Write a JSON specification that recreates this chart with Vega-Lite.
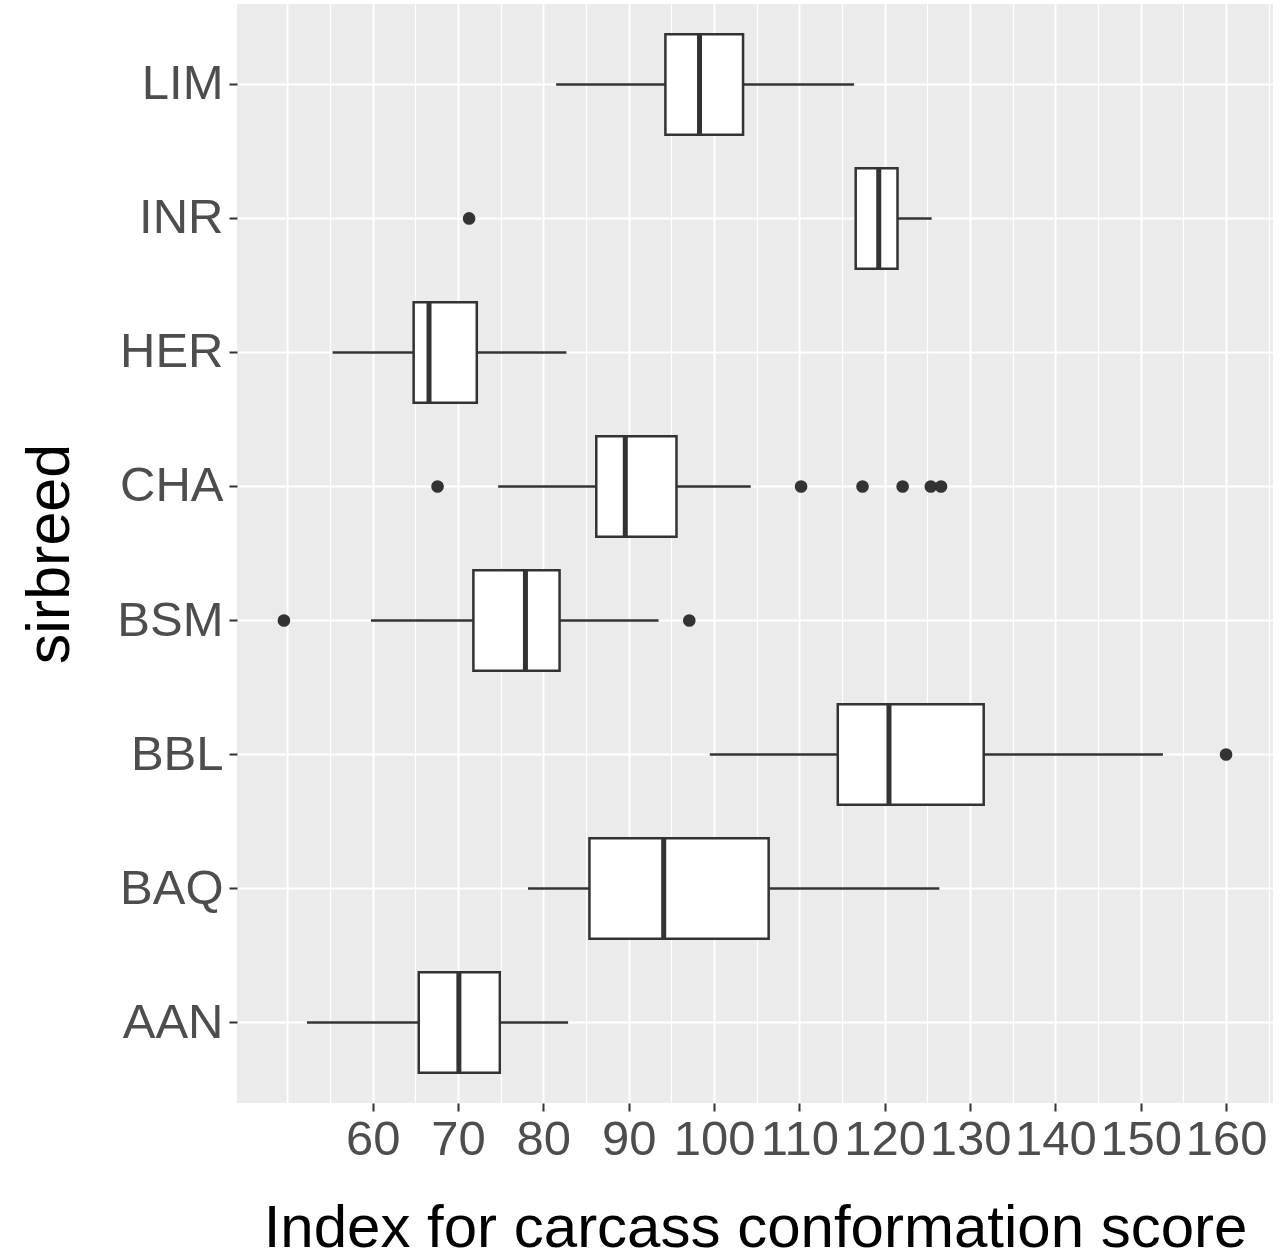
{
  "$schema": "https://vega.github.io/schema/vega-lite/v6.json",
  "width": 1036,
  "height": 1099,
  "autosize": {"type": "none"},
  "padding": {"left": 237, "top": 4, "right": 13, "bottom": 157},
  "background": "white",
  "config": {
    "view": {"fill": "#EBEBEB", "stroke": null},
    "font": "Liberation Sans"
  },
  "datasets": {
    "stats": [
      {"breed": "LIM", "lo": 81.5, "q1": 94.3, "med": 98.3, "q3": 103.4, "hi": 116.4},
      {"breed": "INR", "lo": 116.6, "q1": 116.6, "med": 119.3, "q3": 121.5, "hi": 125.5},
      {"breed": "HER", "lo": 55.3, "q1": 64.8, "med": 66.6, "q3": 72.2, "hi": 82.7},
      {"breed": "CHA", "lo": 74.7, "q1": 86.2, "med": 89.6, "q3": 95.6, "hi": 104.3},
      {"breed": "BSM", "lo": 59.8, "q1": 71.8, "med": 77.9, "q3": 81.9, "hi": 93.5},
      {"breed": "BBL", "lo": 99.5, "q1": 114.5, "med": 120.5, "q3": 131.6, "hi": 152.6},
      {"breed": "BAQ", "lo": 78.2, "q1": 85.4, "med": 94.1, "q3": 106.4, "hi": 126.4},
      {"breed": "AAN", "lo": 52.3, "q1": 65.4, "med": 70.1, "q3": 74.9, "hi": 82.9}
    ],
    "outliers": [
      {"breed": "INR", "value": 71.3},
      {"breed": "CHA", "value": 67.6},
      {"breed": "CHA", "value": 110.2},
      {"breed": "CHA", "value": 117.4},
      {"breed": "CHA", "value": 122.1},
      {"breed": "CHA", "value": 125.4},
      {"breed": "CHA", "value": 126.6},
      {"breed": "BSM", "value": 49.6},
      {"breed": "BSM", "value": 97.1},
      {"breed": "BBL", "value": 160.0}
    ]
  },
  "encoding": {
    "y": {
      "field": "breed",
      "type": "nominal",
      "sort": ["LIM", "INR", "HER", "CHA", "BSM", "BBL", "BAQ", "AAN"],
      "scale": {
        "domain": ["LIM", "INR", "HER", "CHA", "BSM", "BBL", "BAQ", "AAN"],
        "paddingInner": 0.25,
        "paddingOuter": 0.225
      },
      "title": "sirbreed",
      "axis": {
        "bandPosition": 0.5,
        "domain": false,
        "grid": true,
        "gridColor": "white",
        "gridWidth": 2,
        "tickSize": 8,
        "tickWidth": 2,
        "tickColor": "#333333",
        "labelFontSize": 49,
        "labelColor": "#4D4D4D",
        "labelPadding": 6,
        "titleFontSize": 61,
        "titleFontWeight": "normal",
        "titleColor": "black",
        "titleAngle": 270,
        "titleAlign": "center",
        "titleBaseline": "alphabetic",
        "titleX": -169,
        "titleY": 549.5
      }
    }
  },
  "layer": [
    {
      "data": {"name": "stats"},
      "mark": {"type": "rule", "color": "#333333", "strokeWidth": 2.5},
      "encoding": {
        "x": {
          "field": "lo",
          "type": "quantitative",
          "title": "Index for carcass conformation score",
          "scale": {"domain": [44.1, 165.5], "nice": false, "zero": false},
          "axis": {
            "values": [50, 55, 60, 65, 70, 75, 80, 85, 90, 95, 100, 105, 110, 115, 120, 125, 130, 135, 140, 145, 150, 155, 160, 165],
            "domain": false,
            "grid": true,
            "gridColor": "white",
            "gridWidth": {"condition": {"test": "datum.value % 10 === 0", "value": 2}, "value": 1.2},
            "tickOpacity": {"condition": {"test": "datum.value >= 60 && datum.value <= 160 && datum.value % 10 === 0", "value": 1}, "value": 0},
            "labelExpr": "datum.value >= 60 && datum.value <= 160 && datum.value % 10 === 0 ? datum.label : ''",
            "tickSize": 8,
            "tickWidth": 2,
            "tickColor": "#333333",
            "labelFontSize": 49,
            "labelColor": "#4D4D4D",
            "labelPadding": 4,
            "labelOverlap": false,
            "labelFlush": false,
            "titleFontSize": 60,
            "titleFontWeight": "normal",
            "titleColor": "black",
            "titleAlign": "center",
            "titleBaseline": "alphabetic",
            "titleX": 518,
            "titleY": 143
          }
        },
        "x2": {"field": "hi"}
      }
    },
    {
      "data": {"name": "stats"},
      "mark": {"type": "bar", "fill": "white", "stroke": "#333333", "strokeWidth": 2.5},
      "encoding": {
        "x": {"field": "q1", "type": "quantitative", "title": "Index for carcass conformation score"},
        "x2": {"field": "q3"}
      }
    },
    {
      "data": {"name": "stats"},
      "mark": {"type": "tick", "color": "#333333", "thickness": 5, "size": 100, "opacity": 1},
      "encoding": {
        "x": {"field": "med", "type": "quantitative", "title": "Index for carcass conformation score"}
      }
    },
    {
      "data": {"name": "outliers"},
      "mark": {"type": "circle", "color": "#333333", "opacity": 1, "size": 160},
      "encoding": {
        "x": {"field": "value", "type": "quantitative", "title": "Index for carcass conformation score"}
      }
    }
  ]
}
